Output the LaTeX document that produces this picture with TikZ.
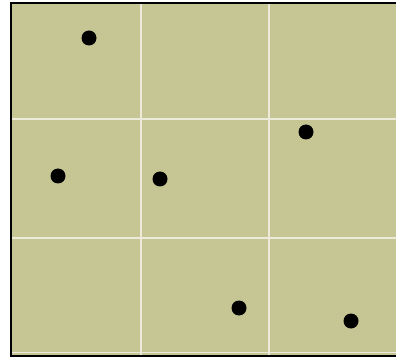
\documentclass[tikz,border=0pt]{standalone}
\definecolor{khaki}{RGB}{198,198,148}
\definecolor{gridline}{RGB}{236,234,218}
\tikzset{
  dot/.style={circle, fill=black, draw=none, inner sep=0pt, minimum size=15pt},
  gridln/.style={draw=gridline, line width=2pt},
  frame/.style={draw=black, line width=2pt}
}
\begin{document}
\begin{tikzpicture}[x=1pt,y=-1pt]
\useasboundingbox (0,0) rectangle (396,358);
\clip (0,0) rectangle (396,358);
\fill[white] (0,0) rectangle (396,358);
\fill[khaki] (11,3) rectangle (400,356);
% grid lines
\draw[gridln] (141,3) -- (141,356);
\draw[gridln] (269,3) -- (269,356);
\draw[gridln] (11,119) -- (400,119);
\draw[gridln] (11,238) -- (400,238);
\draw[draw=gridline, line width=1.2pt] (11,352.5) -- (400,352.5);
% frame
\draw[frame] (11,3) rectangle (400,356);
% dots
\node[dot] (d1) at (89,38) {};
\node[dot] (d2) at (306,132) {};
\node[dot] (d3) at (58,176) {};
\node[dot] (d4) at (160,179) {};
\node[dot] (d5) at (239,308) {};
\node[dot] (d6) at (351,321) {};
\end{tikzpicture}
\end{document}
